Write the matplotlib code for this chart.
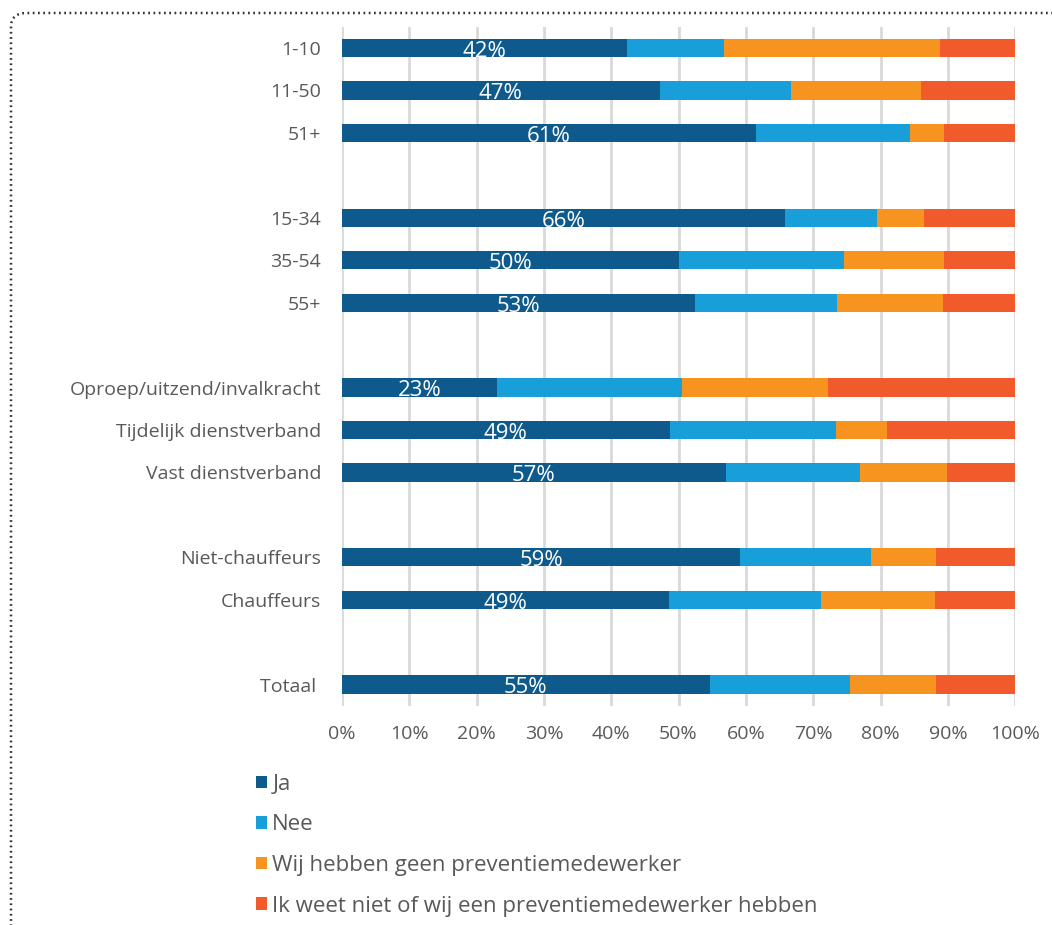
import numpy as np
import matplotlib
matplotlib.use("Agg")
import matplotlib.pyplot as plt
from matplotlib.patches import FancyBboxPatch, Patch

plt.rcParams['font.family'] = ['Open Sans', 'DejaVu Sans']

# categories (blank entries are spacer rows)
categories = ['1-10', '11-50', '51+', '',
              '15-34', '35-54', '55+', '',
              'Oproep/uitzend/invalkracht', 'Tijdelijk dienstverband', 'Vast dienstverband', '',
              'Niet-chauffeurs', 'Chauffeurs', '',
              'Totaal ']

ja  = [42.3, 47.2, 61.5, 0, 65.8, 50.1, 52.5, 0, 23.1, 48.7, 57.0, 0, 59.2, 48.6, 0, 54.6]
nee = [14.5, 19.5, 22.9, 0, 13.7, 24.5, 21.0, 0, 27.4, 24.7, 20.0, 0, 19.4, 22.6, 0, 20.8]
wij = [32.0, 19.3, 5.0, 0, 7.0, 14.9, 15.8, 0, 21.7, 7.6, 12.9, 0, 9.7, 16.9, 0, 12.8]
ik  = [11.2, 14.0, 10.6, 0, 13.5, 10.5, 10.7, 0, 27.8, 19.0, 10.1, 0, 11.7, 11.9, 0, 11.8]
ja_labels = ['42%', '47%', '61%', '', '66%', '50%', '53%', '',
             '23%', '49%', '57%', '', '59%', '49%', '', '55%']

series_names = ['Ja', 'Nee', 'Wij hebben geen preventiemedewerker',
                'Ik weet niet of wij een preventiemedewerker hebben']
colors = ['#0f5a8c', '#189fda', '#f7941f', '#f15b2c']

fig = plt.figure(figsize=(10.52, 9.25), dpi=100)
ax = fig.add_axes([0.325, 0.237, 0.64, 0.734])

y = np.arange(len(categories))
left = np.zeros(len(categories))
for vals, c in zip([ja, nee, wij, ik], colors):
    vals = np.array(vals, dtype=float)
    mask = vals > 0
    ax.barh(y[mask], vals[mask], left=left[mask], height=0.43, color=c, zorder=3)
    left += vals

for i, lab in enumerate(ja_labels):
    if lab:
        ax.text(ja[i] / 2, y[i] + 0.08, lab, color='white', fontsize=16,
                ha='center', va='center', zorder=4)

ax.set_xlim(0, 100)
ax.set_ylim(len(categories) - 0.5, -0.5)
ax.set_yticks(y)
ax.set_yticklabels(categories)
ax.set_xticks(np.arange(0, 101, 10))
ax.set_xticklabels([f'{v}%' for v in range(0, 101, 10)])
ax.tick_params(axis='both', length=0, labelsize=14, colors='#595959')
ax.tick_params(axis='y', pad=15)
ax.tick_params(axis='x', pad=14)
ax.grid(axis='x', color='#d9d9d9', linewidth=2, zorder=0)
for s in ax.spines.values():
    s.set_visible(False)

handles = [Patch(facecolor=c, edgecolor='none') for c in colors]
fig.legend(handles, series_names, loc='upper left', bbox_to_anchor=(0.224, 0.185),
           frameon=False, fontsize=16, labelcolor='#595959',
           handlelength=0.5, handleheight=0.5, handletextpad=0.25, labelspacing=0.88)

# dotted rounded frame, running off the right and bottom edges
frame = FancyBboxPatch((11 / 1052, -0.1), 1.2, 1 - 13 / 925 + 0.1,
                       boxstyle='round,pad=0,rounding_size=0.015',
                       transform=fig.transFigure, fill=False,
                       edgecolor='#333333', linewidth=1.8,
                       linestyle=(0, (0.7, 1.4)))
fig.patches.append(frame)

fig.savefig('out.png', dpi=100)
